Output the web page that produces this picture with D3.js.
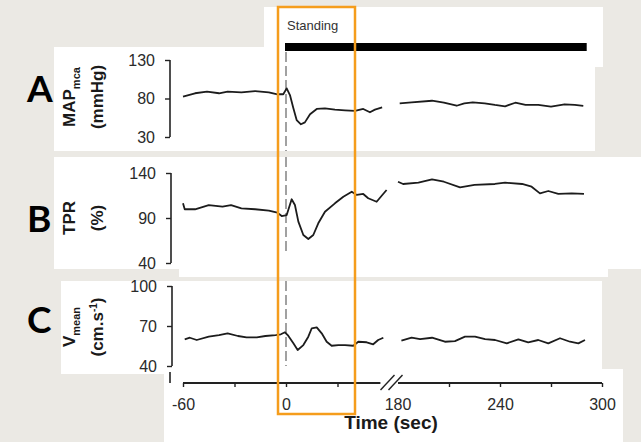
<!DOCTYPE html>
<html lang="en">
<head>
<meta charset="UTF-8">
<title>Standing</title>
<style>
  body { margin: 0; background: #ebe9e4; }
  svg { display: block; font-family: "Liberation Sans", Arial, sans-serif; }
</style>
</head>
<body>
<svg width="641" height="442"></svg>

<script src="https://cdn.jsdelivr.net/npm/d3@7"></script>
<script>
// data (time in sec, values per panel)
var mapTime = [-60,-53,-46,-39,-34,-26,-18,-10,-5,-1.6,0.4,2.3,4.3,6.2,8.7,11,14,17.9,22.7,28.5,34.4,40.2,45,48.9,51.8,56,
               181,188,200,207,214.5,219,224,231,237,243,249,255,262.5,270,278,284,289];
var mapValues = [82.3,86.8,88.8,86.8,88.8,88,89.7,88,85.5,85.5,93.2,84.5,67.3,52,46.5,49,59.5,66.4,67.3,65.5,64.7,63.8,66.4,62.1,65.5,68.6,
                 73.8,75.1,77.1,74.5,70.6,73.8,75.1,73.8,71.6,69.9,74.5,71.6,71.6,69.4,72.5,71.6,70.3];

var tprTime = [-60,-59,-53,-45,-37,-32,-26,-18,-10,-5,-2.5,0.4,3.3,5.2,7.2,10.1,13,15.9,18.8,22.7,28.5,33.4,38.3,41.2,45,47.9,52.8,56.1,58.6,
               180,183,192,200,207,216.5,225,237,243,253,258.6,263.5,268.4,274.3,282.2,289.4];
var tprValues = [106.3,99.7,99.7,104.4,102.6,104.4,100.8,99.7,98.1,95.9,92.2,93.3,110.8,104.4,85.9,71.1,66.7,71.1,84.1,97,106.3,113.7,119.2,115.6,116.7,111.9,108.1,115.6,121.1,
                 130.3,127.8,129.2,133,130.3,124.1,126.7,127.8,129.2,127.8,124.8,117.4,120,116.7,117.4,116.7];

var vTime = [-59,-56,-52,-45,-39,-34,-28,-23,-17,-12,-6,-3,-0.6,1.3,4.3,6.8,10.1,13,15,17.9,20.8,23.7,26.6,30.5,34.4,39.2,42.1,47,50.8,53.7,56.7,
             182,188,193,200,207.6,213.5,219.4,225.3,231.2,237.1,244,250.8,256.6,262.5,268.4,275.3,281.2,286.1,290];
var vValues = [60,61.2,59.5,62,63.2,64.5,62.5,61.5,61.5,62.5,63.2,63.8,65.3,62.7,57,52,55.7,62,68.3,69,64.5,58.2,55.2,55.7,55.7,55.2,58.2,57.8,56.3,59.5,61.2,
               59,61.2,60.2,61.2,58.2,58.7,62,62,60.2,59.5,57,60,57.8,59.5,57,60.8,58.2,57,59.5];

var mapTicks = [30, 80, 130];
var tprTicks = [40, 90, 140];
var vTicks = [40, 70, 100];
var timeTicks = [-60, -30, 0, 30, 210, 240, 270, 300];
var timeLabels = [-60, 0, 240, 300];
var standingEnd = 291;

var svg = d3.select("svg");

// white cut-out panels of the slide
var panels = [[264,7,339,60],[54,47,541,104],[54,157,587,112],[179,157,429,120],[61,281,541,93],[164,369,459,73]];
svg.selectAll("rect.panel").data(panels).enter().append("rect")
  .attr("x", d => d[0]).attr("y", d => d[1]).attr("width", d => d[2]).attr("height", d => d[3])
  .attr("fill", "#fff");

// broken time axis
var x = d3.scaleLinear().domain([-60, 60, 180, 300]).range([183, 389, 398, 602]);

var charts = [
  { letter: "A", time: mapTime, values: mapValues, ticks: mapTicks, domain: [30,130], range: [137,60], ax: 170,
    dash: [52,151], letterY: 102, titleY: 97, t1: ["MAP","mca"], t2: "(mmHg)" },
  { letter: "B", time: tprTime, values: tprValues, ticks: tprTicks, domain: [40,140], range: [263,173], ax: 171,
    dash: [157,251], letterY: 232, titleY: 218, t1: ["TPR",""], t2: "(%)" },
  { letter: "C", time: vTime, values: vValues, ticks: vTicks, domain: [40,100], range: [366,286], ax: 172,
    dash: [281,366], letterY: 333, titleY: 327, t1: ["V","mean"], t2: "(cm.s" }
];

charts.forEach(function(c){
  var y = d3.scaleLinear().domain(c.domain).range(c.range);

  var yAxis = d3.axisLeft(y).tickValues(c.ticks).tickSize(5).tickPadding(10);
  var ga = svg.append("g").attr("transform", "translate(" + c.ax + ",0)").call(yAxis);
  ga.select(".domain").attr("d", "M0," + y(c.domain[1]) + "V" + y(c.domain[0])).attr("stroke", "#222").attr("stroke-width", 1.6);
  ga.selectAll(".tick line").attr("stroke", "#222").attr("stroke-width", 1.4);
  ga.selectAll(".tick text").attr("font-size", 16).attr("fill", "#2a2a2a");

  // t = 0 marker
  svg.append("line")
    .attr("x1", x(0)).attr("x2", x(0)).attr("y1", c.dash[0]).attr("y2", c.dash[1])
    .attr("stroke", "#8a8a8a").attr("stroke-width", 1.6).attr("stroke-dasharray", "10,4");

  var pts = c.time.map((t, i) => ({ t: t, v: c.values[i] }));
  var parts = [pts.filter(d => d.t < 120), pts.filter(d => d.t >= 120)];
  var line = d3.line().x(d => x(d.t)).y(d => y(d.v));
  svg.selectAll(null).data(parts).enter().append("path")
    .attr("d", line).attr("fill", "none")
    .attr("stroke", "#1c1c1c").attr("stroke-width", 1.8).attr("stroke-linejoin", "round");

  svg.append("text").attr("x", 27).attr("y", c.letterY)
    .attr("font-family", "Lato, 'Open Sans', sans-serif").attr("font-weight", 700).attr("font-size", 37)
    .attr("fill", "#000").text(c.letter);

  var t1 = svg.append("text").attr("transform", "translate(75," + c.titleY + ") rotate(-90)")
    .attr("text-anchor", "middle").attr("font-weight", 700).attr("font-size", 17).attr("fill", "#1a1a1a");
  t1.append("tspan").text(c.t1[0]);
  if (c.t1[1]) t1.append("tspan").attr("font-size", 11).attr("dy", 5).text(c.t1[1]);

  var t2 = svg.append("text").attr("transform", "translate(103," + c.titleY + ") rotate(-90)")
    .attr("text-anchor", "middle").attr("font-weight", 700).attr("font-size", 17).attr("fill", "#1a1a1a");
  t2.append("tspan").text(c.t2);
  if (c.letter === "C") {
    t2.append("tspan").attr("font-size", 10).attr("dy", -6).text("-1");
    t2.append("tspan").attr("dy", 6).text(")");
  }
});

// small broken piece of the y axis above the time axis
svg.append("line").attr("x1", 170).attr("x2", 170).attr("y1", 372).attr("y2", 383)
  .attr("stroke", "#222").attr("stroke-width", 1.6);

// time axis
var xAxis = d3.axisBottom(x).tickValues(timeTicks).tickSize(4).tickPadding(12)
  .tickFormat(d => timeLabels.indexOf(d) >= 0 ? d : "");
var gx = svg.append("g").attr("transform", "translate(0,383)").call(xAxis);
gx.select(".domain").remove();
gx.selectAll(".tick line").attr("stroke", "#222").attr("stroke-width", 1.4);
gx.selectAll(".tick text").attr("font-size", 16).attr("fill", "#2a2a2a");
gx.append("path").attr("d", "M" + x(-60) + ",0H" + x(55) + "M" + x(180) + ",0H" + x(300))
  .attr("stroke", "#222").attr("stroke-width", 1.8);
gx.append("text").attr("x", x(180)).attr("y", 16).attr("dy", "0.71em")
  .attr("font-size", 16).attr("fill", "#2a2a2a").text(180);
var mid = (x(60) + x(180)) / 2;
[-6, 2].forEach(function(o){
  gx.append("line").attr("x1", mid + o - 7).attr("y1", 7).attr("x2", mid + o + 7).attr("y2", -8)
    .attr("stroke", "#222").attr("stroke-width", 1.4);
});

svg.append("text").attr("x", 391).attr("y", 429).attr("text-anchor", "middle")
  .attr("font-weight", 700).attr("font-size", 19).attr("fill", "#1a1a1a").text("Time (sec)");

// standing period
svg.append("text").attr("x", 287).attr("y", 30).attr("font-size", 13).attr("fill", "#333").text("Standing");
svg.append("rect").attr("x", x(0) - 1).attr("y", 43).attr("width", x(standingEnd) - x(0) + 1).attr("height", 8).attr("fill", "#000");

// highlight box
svg.append("rect").attr("x", 278).attr("y", 7).attr("width", 77).attr("height", 407)
  .attr("fill", "none").attr("stroke", "#f59d1c").attr("stroke-width", 2.5);
</script>
</body>
</html>
